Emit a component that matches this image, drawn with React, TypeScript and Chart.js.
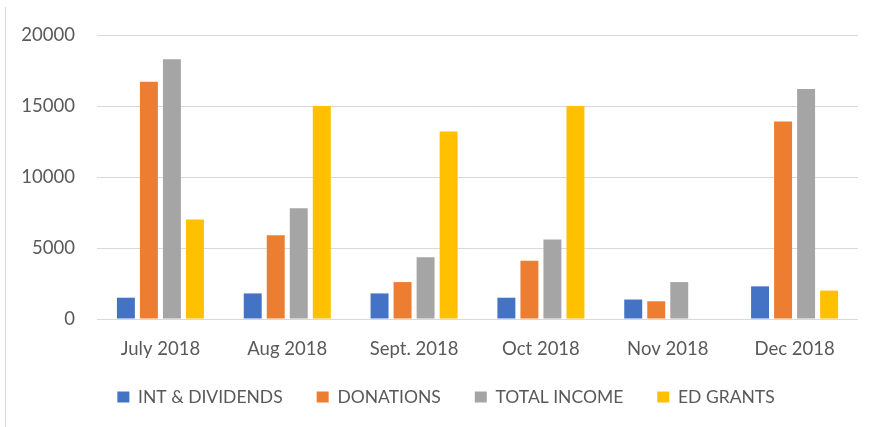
import React, { useEffect, useRef } from "react";
import { Chart, registerables } from "chart.js";

Chart.register(...registerables);

const categories = ["July 2018", "Aug 2018", "Sept. 2018", "Oct 2018", "Nov 2018", "Dec 2018"];
const intDividends = [1500, 1800, 1800, 1500, 1370, 2300];
const donations = [16700, 5900, 2600, 4100, 1250, 13900];
const totalIncome = [18300, 7800, 4350, 5600, 2600, 16200];
const edGrants = [7000, 15000, 13200, 15000, 0, 2000];
const yTicks = [0, 5000, 10000, 15000, 20000];

const FONT = "Lato, 'Open Sans', sans-serif";
const TEXT = "#595959";
const LEGEND_FONT = 17.5;
const LEGEND_PAD = 34;

export default function App() {
  const ref = useRef<HTMLCanvasElement | null>(null);

  useEffect(() => {
    document.body.style.margin = "0";
    if (!ref.current) return;
    const edgePlugin = {
      id: "edge",
      afterLayout(chart: any) {
        const lg = chart.legend;
        if (lg) {
          const desiredTop = 397 - LEGEND_PAD - LEGEND_FONT / 2;
          const dy = desiredTop - lg.top;
          lg.top += dy;
          lg.bottom += dy;
          lg.left += 17;
          lg.right += 17;
        }
      },
      afterDraw(chart: any) {
        const ctx = chart.ctx;
        ctx.save();
        ctx.strokeStyle = "#d9d9d9";
        ctx.lineWidth = 1;
        ctx.beginPath();
        ctx.moveTo(5.5, 7);
        ctx.lineTo(5.5, 427);
        ctx.stroke();
        ctx.restore();
      },
    };
    const chart = new Chart(ref.current, {
      type: "bar",
      data: {
        labels: categories,
        datasets: [
          { label: "INT & DIVIDENDS", data: intDividends, backgroundColor: "#4472C4" },
          { label: "DONATIONS", data: donations, backgroundColor: "#ED7D31" },
          { label: "TOTAL INCOME", data: totalIncome, backgroundColor: "#A5A5A5" },
          { label: "ED GRANTS", data: edGrants, backgroundColor: "#FFC000" },
        ],
      },
      plugins: [edgePlugin],
      options: {
        animation: false,
        responsive: false,
        maintainAspectRatio: false,
        datasets: { bar: { categoryPercentage: 0.726, barPercentage: 0.78 } },
        layout: { padding: { top: 35, right: 11, bottom: 0, left: 0 } },
        scales: {
          x: {
            grid: { display: false },
            border: { display: false },
            ticks: { color: TEXT, font: { family: FONT, size: 18.5 }, padding: 11 },
            afterFit: (s: any) => { s.height = 46.5; },
          },
          y: {
            min: 0,
            max: 20000,
            afterBuildTicks: (s: any) => { s.ticks = yTicks.map((v) => ({ value: v })); },
            grid: { color: "#d9d9d9", lineWidth: 1, drawTicks: false },
            border: { display: false },
            ticks: {
              color: TEXT,
              font: { family: FONT, size: 18.5 },
              padding: 22,
              callback: (v: any) => String(v),
            },
            afterFit: (s: any) => { s.width = 97; },
          },
        },
        plugins: {
          legend: {
            position: "bottom",
            labels: {
              color: TEXT,
              font: { family: FONT, size: LEGEND_FONT },
              boxWidth: 12,
              boxHeight: 11,
              padding: LEGEND_PAD,
            },
          },
          tooltip: { enabled: false },
        },
      },
    });
    return () => chart.destroy();
  }, []);

  return <canvas ref={ref} width={869} height={427} style={{ display: "block" }} />;
}
